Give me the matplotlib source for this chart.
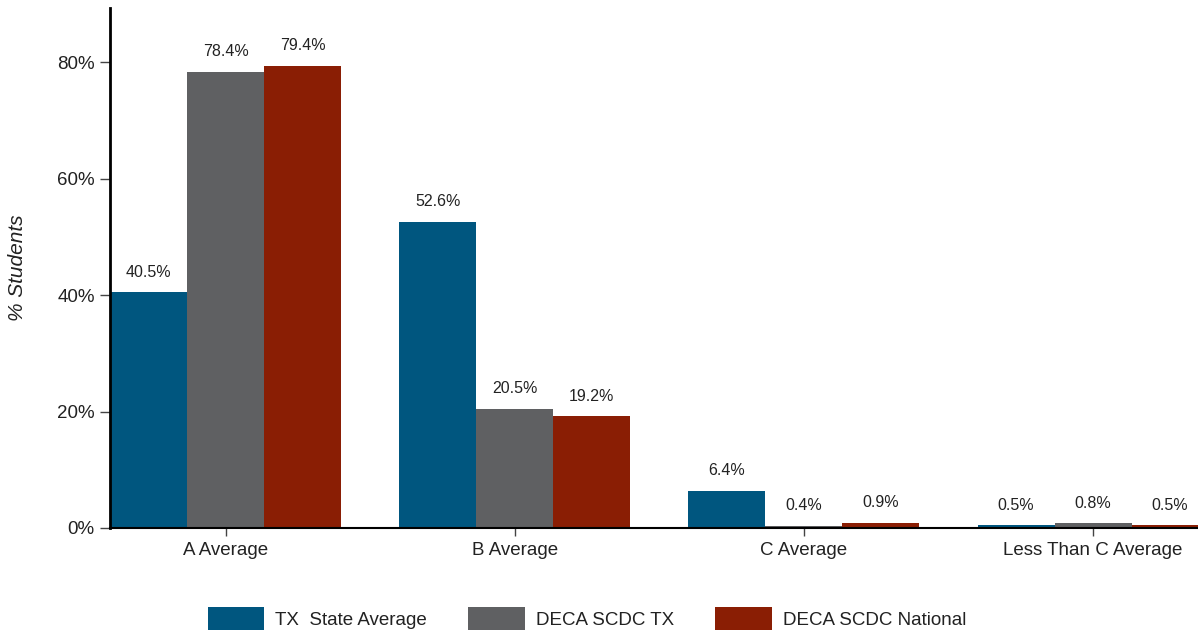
import numpy as np
import matplotlib.pyplot as plt
from matplotlib.ticker import FuncFormatter

categories = ['A Average', 'B Average', 'C Average', 'Less Than C Average']
series_names = ['TX  State Average', 'DECA SCDC TX', 'DECA SCDC National']
tx_state = [40.5, 52.6, 6.4, 0.5]
deca_tx = [78.4, 20.5, 0.4, 0.8]
deca_national = [79.4, 19.2, 0.9, 0.5]
colors = ['#00567f', '#5f6062', '#8a1e04']

plt.rcParams['font.family'] = ['Liberation Sans', 'DejaVu Sans']

fig = plt.figure(figsize=(11.98, 6.33), dpi=100)
ax = fig.add_axes([0.0918, 0.166, 0.9082, 0.821])

x = np.arange(len(categories))
w = 0.2664
for i, (vals, name) in enumerate(zip([tx_state, deca_tx, deca_national], series_names)):
    bars = ax.bar(x + (i - 1) * w, vals, w, color=colors[i], label=name)
    for b, v in zip(bars, vals):
        ax.annotate(f'{v:.1f}%', (b.get_x() + b.get_width() / 2, v),
                    xytext=(0, 9), textcoords='offset points',
                    ha='center', va='bottom', fontsize=11.5, color='#222222')

ax.set_xlim(-0.4, 3.363)
ax.set_ylim(0, 89.3)
ax.set_yticks([0, 20, 40, 60, 80])
ax.yaxis.set_major_formatter(FuncFormatter(lambda v, p: f'{v:.0f}%'))
ax.set_xticks(x)
ax.set_xticklabels(categories)
ax.tick_params(axis='y', length=7, width=1, color='#444444', labelsize=13.5, pad=4,
               labelcolor='#222222')
ax.tick_params(axis='x', length=6, width=1, color='#444444', labelsize=13.5, pad=4,
               labelcolor='#222222')
ax.set_ylabel('% Students', fontsize=15, style='italic', labelpad=22, color='#222222')

for s in ['top', 'right']:
    ax.spines[s].set_visible(False)
ax.spines['left'].set_linewidth(2)
ax.spines['bottom'].set_linewidth(1.5)

fig.legend(loc='lower center', bbox_to_anchor=(0.49, -0.022), ncol=3, frameon=False,
           fontsize=13.5, handlelength=3.0, handleheight=1.5, columnspacing=2.2,
           handletextpad=0.6, labelcolor='#222222')

fig.savefig('out.png', dpi=100)
